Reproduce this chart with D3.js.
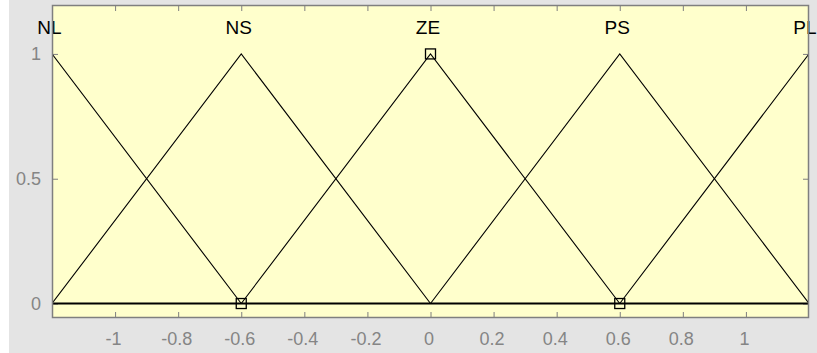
<!DOCTYPE html>
<html>
<head>
<meta charset="utf-8">
<script src="https://cdn.jsdelivr.net/npm/d3@7"></script>
<style>
  html, body { margin: 0; padding: 0; background: #ffffff; }
  svg { display: block; }
</style>
</head>
<body>
<svg id="chart" width="817" height="353"></svg>
<script>
// Membership functions of the fuzzy variable (triangular: [a, b, c])
const mfNames = ["NL", "NS", "ZE", "PS", "PL"];
const mfParams = [
  [-1.8, -1.2, -0.6],
  [-1.2, -0.6, 0],
  [-0.6, 0, 0.6],
  [0, 0.6, 1.2],
  [0.6, 1.2, 1.8]
];
// Handle points of the selected function
const handlePoints = [[-0.6, 0], [0, 1], [0.6, 0]];

const xTicks = [-1, -0.8, -0.6, -0.4, -0.2, 0, 0.2, 0.4, 0.6, 0.8, 1];
const xTickLabels = ["-1", "-0.8", "-0.6", "-0.4", "-0.2", "0", "0.2", "0.4", "0.6", "0.8", "1"];
const yTicks = [0, 0.5, 1];
const yTickLabels = ["0", "0.5", "1"];
const xDomain = [-1.2, 1.2];
const yDomain = [-0.058, 1.196];

const W = 817, H = 353;
const plot = { left: 52, right: 809, top: 5, bottom: 318 };

const svg = d3.select("#chart");

// figure panel
svg.append("rect").attr("x", 9).attr("y", 0).attr("width", W - 9).attr("height", H)
  .attr("fill", "#e4e4e4");

const x = d3.scaleLinear().domain(xDomain).range([plot.left, plot.right]);
const y = d3.scaleLinear().domain(yDomain).range([plot.bottom, plot.top]);

// axes background
svg.append("rect")
  .attr("x", plot.left).attr("y", plot.top)
  .attr("width", plot.right - plot.left).attr("height", plot.bottom - plot.top)
  .attr("fill", "#ffffcc");

svg.append("clipPath").attr("id", "plotClip")
  .append("rect")
  .attr("x", plot.left).attr("y", plot.top)
  .attr("width", plot.right - plot.left).attr("height", plot.bottom - plot.top);

const tickColor = "#7f7f7f";
const tickLen = 6;

// inward ticks on all four sides
const bottomAxis = d3.axisBottom(x).tickValues(xTicks).tickSize(-tickLen).tickFormat((d, i) => xTickLabels[i]).tickPadding(14);
const topAxis = d3.axisTop(x).tickValues(xTicks).tickSize(-tickLen).tickFormat("");
const leftAxis = d3.axisLeft(y).tickValues(yTicks).tickSize(-tickLen).tickFormat((d, i) => yTickLabels[i]).tickPadding(11);
const rightAxis = d3.axisRight(y).tickValues(yTicks).tickSize(-tickLen).tickFormat("");

function styleAxis(g) {
  g.select(".domain").remove();
  g.selectAll(".tick line").attr("stroke", tickColor);
  g.selectAll(".tick text")
    .attr("fill", "#858585")
    .style("font-family", "'Liberation Sans', Arial, sans-serif")
    .style("font-size", "18px");
}

const gBottom = svg.append("g").attr("transform", `translate(0,${plot.bottom})`).call(bottomAxis).call(styleAxis);
gBottom.selectAll(".tick text").attr("dx", -2);
svg.append("g").attr("transform", `translate(0,${plot.top})`).call(topAxis).call(styleAxis);
svg.append("g").attr("transform", `translate(${plot.left},0)`).call(leftAxis).call(styleAxis);
svg.append("g").attr("transform", `translate(${plot.right},0)`).call(rightAxis).call(styleAxis);

const marks = svg.append("g").attr("clip-path", "url(#plotClip)");

// zero line
marks.append("line")
  .attr("x1", x(xDomain[0])).attr("x2", x(xDomain[1]))
  .attr("y1", y(0)).attr("y2", y(0))
  .attr("stroke", "#000").attr("stroke-width", 2);

// triangular membership functions
const line = d3.line().x(d => x(d[0])).y(d => y(d[1]));
mfParams.forEach(p => {
  marks.append("path")
    .attr("d", line([[p[0], 0], [p[1], 1], [p[2], 0]]))
    .attr("fill", "none")
    .attr("stroke", "#000")
    .attr("stroke-width", 1.1);
});

// handle markers
svg.selectAll("rect.handle").data(handlePoints).enter().append("rect")
  .attr("class", "handle")
  .attr("x", d => x(d[0]) - 5).attr("y", d => y(d[1]) - 5)
  .attr("width", 10).attr("height", 10)
  .attr("fill", "none").attr("stroke", "#000").attr("stroke-width", 1.3);

// function names above the peaks, kept inside the figure
svg.selectAll("text.mfname").data(mfNames).enter().append("text")
  .attr("class", "mfname")
  .attr("y", 34)
  .attr("text-anchor", "middle")
  .attr("fill", "#000")
  .style("font-family", "'Liberation Sans', Arial, sans-serif")
  .style("font-size", "19px")
  .text(d => d)
  .attr("x", function(d, i) {
    const half = this.getComputedTextLength() / 2;
    const cx = x(mfParams[i][1]) - 2.5;
    return Math.max(half + 1, Math.min(W - half - 0.5, cx));
  });

// axes box
svg.append("rect")
  .attr("x", plot.left + 0.5).attr("y", plot.top + 0.5)
  .attr("width", plot.right - plot.left - 1).attr("height", plot.bottom - plot.top - 1)
  .attr("fill", "none").attr("stroke", tickColor).attr("stroke-width", 1.5);
</script>
</body>
</html>
